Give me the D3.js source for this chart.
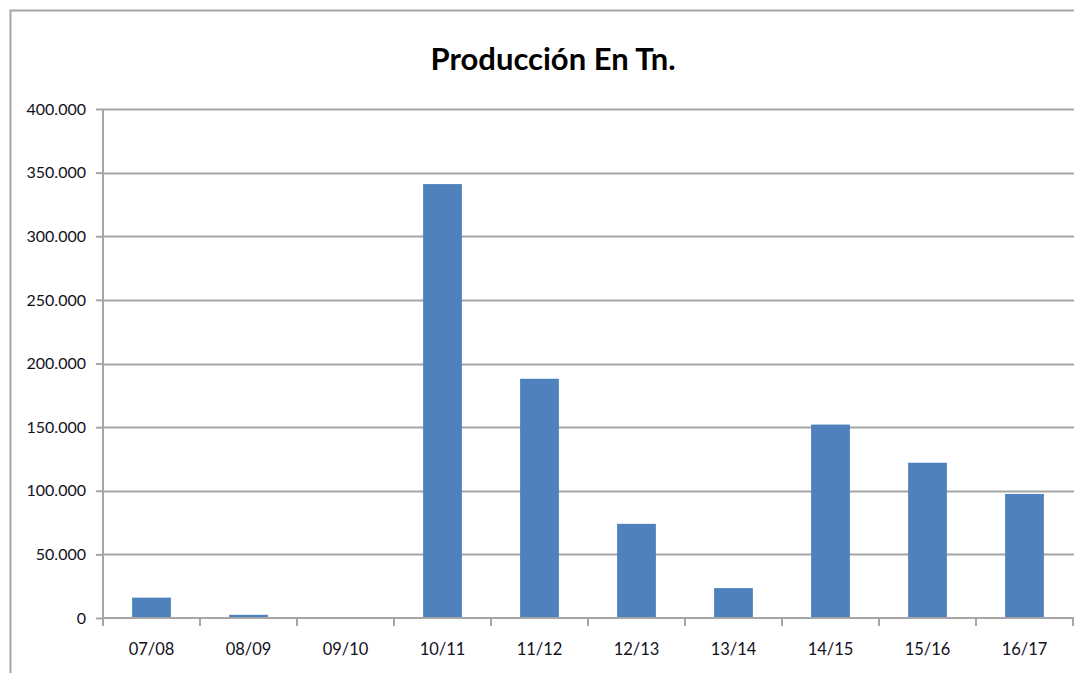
<!DOCTYPE html>
<html><head><meta charset="utf-8">
<script src="https://cdn.jsdelivr.net/npm/d3@7"></script>
<style>html,body{margin:0;padding:0;background:#fff;}svg{display:block;font-family:Lato,"Open Sans",sans-serif;}</style>
</head><body>
<svg id="c" width="1074" height="673"></svg>
<script>
const categories = ["07/08","08/09","09/10","10/11","11/12","12/13","13/14","14/15","15/16","16/17"];
const production = [16000, 2500, 0, 341000, 188000, 74000, 23500, 152000, 122000, 97500];
const yTicks = [0, 50000, 100000, 150000, 200000, 250000, 300000, 350000, 400000];
const title = "Producción En Tn.";

const svg = d3.select("#c");
const W = 1074, H = 673;
const m = {left: 103, right: 1, top: 109, bottom: 55};
const x = d3.scaleBand().domain(categories).range([m.left, W - m.right]).padding(0);
const y = d3.scaleLinear().domain([0, 400000]).range([H - m.bottom, m.top]);
const loc = d3.formatLocale({decimal: ",", thousands: ".", grouping: [3], currency: ["", ""]});
const fmt = loc.format(",d");

// outer frame
svg.append("rect").attr("x", 10.5).attr("y", 10.5).attr("width", W + 10).attr("height", H + 10)
  .attr("fill", "none").attr("stroke", "#a6a6a6").attr("stroke-width", 2);

// gridlines
svg.append("g").selectAll("line").data(yTicks.filter(d => d > 0)).join("line")
  .attr("x1", m.left).attr("x2", W).attr("y1", d => Math.round(y(d)) + 0.5).attr("y2", d => Math.round(y(d)) + 0.5)
  .attr("stroke", "#a6a6a6").attr("stroke-width", 2);

// bars
const bw = x.bandwidth() * 0.4;
svg.append("g").selectAll("rect").data(categories).join("rect")
  .attr("x", (d) => x(d) + (x.bandwidth() - bw) / 2)
  .attr("width", bw)
  .attr("y", (d, i) => y(production[i]))
  .attr("height", (d, i) => y(0) - y(production[i]))
  .attr("fill", "#4f81bd");

// y axis
const yAxis = d3.axisLeft(y).tickValues(yTicks).tickFormat(fmt).tickSize(7).tickPadding(10);
const gy = svg.append("g").attr("transform", `translate(${m.left},0)`).call(yAxis);
gy.select(".domain").attr("stroke", "#a6a6a6").attr("stroke-width", 2).attr("d", `M0,${m.top}V${y(0) + 7}`);
gy.selectAll(".tick line").attr("stroke", "#a6a6a6").attr("stroke-width", 2);
gy.selectAll("text").attr("font-size", 16).attr("fill", "#111122").attr("font-family", "Lato, sans-serif");

// x axis
const gx = svg.append("g").attr("transform", `translate(0,${y(0)})`);
gx.append("line").attr("x1", m.left).attr("x2", W).attr("y1", 0).attr("y2", 0).attr("stroke", "#a6a6a6").attr("stroke-width", 2);
const tickPos = categories.map(c => x(c)).concat([x(categories[categories.length - 1]) + x.bandwidth()]);
gx.selectAll("line.t").data(tickPos).join("line").attr("class", "t")
  .attr("x1", d => d).attr("x2", d => d).attr("y1", 0).attr("y2", 8)
  .attr("stroke", "#a6a6a6").attr("stroke-width", 2);
gx.selectAll("text").data(categories).join("text")
  .attr("x", d => x(d) + x.bandwidth() / 2).attr("y", 37)
  .attr("text-anchor", "middle").attr("font-size", 16.5).attr("fill", "#111122").text(d => d);

// title
svg.append("text").attr("x", 553).attr("y", 70).attr("text-anchor", "middle")
  .attr("font-size", 31).attr("font-weight", "bold").attr("fill", "#000").text(title);
</script>
</body></html>
